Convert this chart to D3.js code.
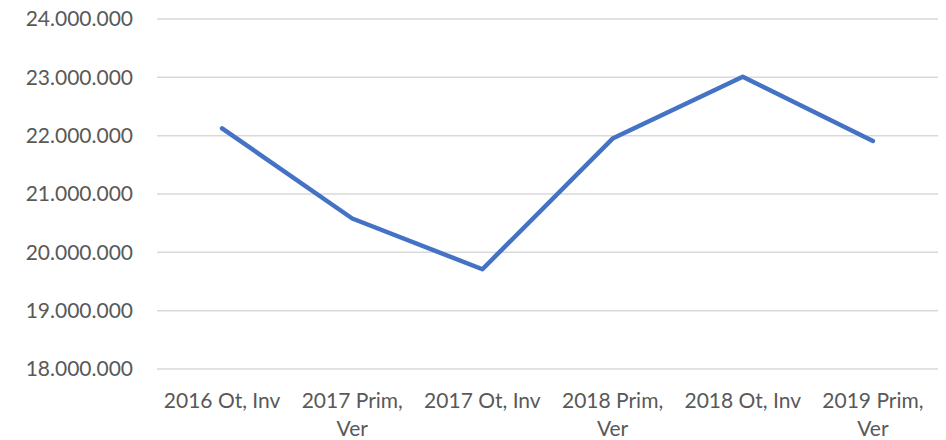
<!DOCTYPE html>
<html>
<head>
<meta charset="utf-8">
<script src="https://cdn.jsdelivr.net/npm/d3@7"></script>
<style>
  body { margin: 0; background: #fff; }
  text { font-family: Lato, "Liberation Sans", sans-serif; fill: #595959; }
</style>
</head>
<body>
<svg id="chart"></svg>
<script>
// data
const categories = ["2016 Ot, Inv", "2017 Prim, Ver", "2017 Ot, Inv", "2018 Prim, Ver", "2018 Ot, Inv", "2019 Prim, Ver"];
const values = [22125000, 20580000, 19710000, 21950000, 23010000, 21910000];
const yTicks = [18000000, 19000000, 20000000, 21000000, 22000000, 23000000, 24000000];

const width = 946, height = 440;
const margin = {top: 19, right: 8, bottom: 71, left: 157};

const svg = d3.select("#chart")
    .attr("width", width)
    .attr("height", height);

const x = d3.scaleBand()
    .domain(categories)
    .range([margin.left, width - margin.right]);

const y = d3.scaleLinear()
    .domain([18000000, 24000000])
    .range([height - margin.bottom, margin.top]);

const fmt = d => d3.format(",")(d).replace(/,/g, ".");

// gridlines
svg.append("g")
    .selectAll("line")
    .data(yTicks)
    .join("line")
    .attr("x1", margin.left)
    .attr("x2", width - margin.right)
    .attr("y1", d => y(d))
    .attr("y2", d => y(d))
    .attr("stroke", "#d9d9d9")
    .attr("stroke-width", 1.5);

// y labels
svg.append("g")
    .selectAll("text")
    .data(yTicks)
    .join("text")
    .attr("x", 133)
    .attr("y", d => y(d))
    .attr("dy", "0.35em")
    .attr("text-anchor", "end")
    .style("font-size", "21px")
    .text(fmt);

// x labels, wrapped like the spreadsheet does
const xl = svg.append("g")
    .selectAll("text")
    .data(categories)
    .join("text")
    .attr("x", d => x(d) + x.bandwidth() / 2)
    .attr("y", 408)
    .attr("text-anchor", "middle")
    .style("font-size", "21px");

xl.each(function(d) {
    const t = d3.select(this);
    const words = d.split(" ");
    let line = [];
    let tspan = t.append("tspan").attr("x", x(d) + x.bandwidth() / 2).attr("dy", 0);
    words.forEach(w => {
        line.push(w);
        tspan.text(line.join(" "));
        if (tspan.node().getComputedTextLength() > x.bandwidth() - 4 && line.length > 1) {
            line.pop();
            tspan.text(line.join(" "));
            line = [w];
            tspan = t.append("tspan")
                .attr("x", x(d) + x.bandwidth() / 2)
                .attr("dy", 28)
                .text(w);
        }
    });
});

// the line
const line = d3.line()
    .x((d, i) => x(categories[i]) + x.bandwidth() / 2)
    .y(d => y(d));

svg.append("path")
    .datum(values)
    .attr("d", line)
    .attr("fill", "none")
    .attr("stroke", "#4472c4")
    .attr("stroke-width", 4.5)
    .attr("stroke-linejoin", "round")
    .attr("stroke-linecap", "round");
</script>
</body>
</html>
